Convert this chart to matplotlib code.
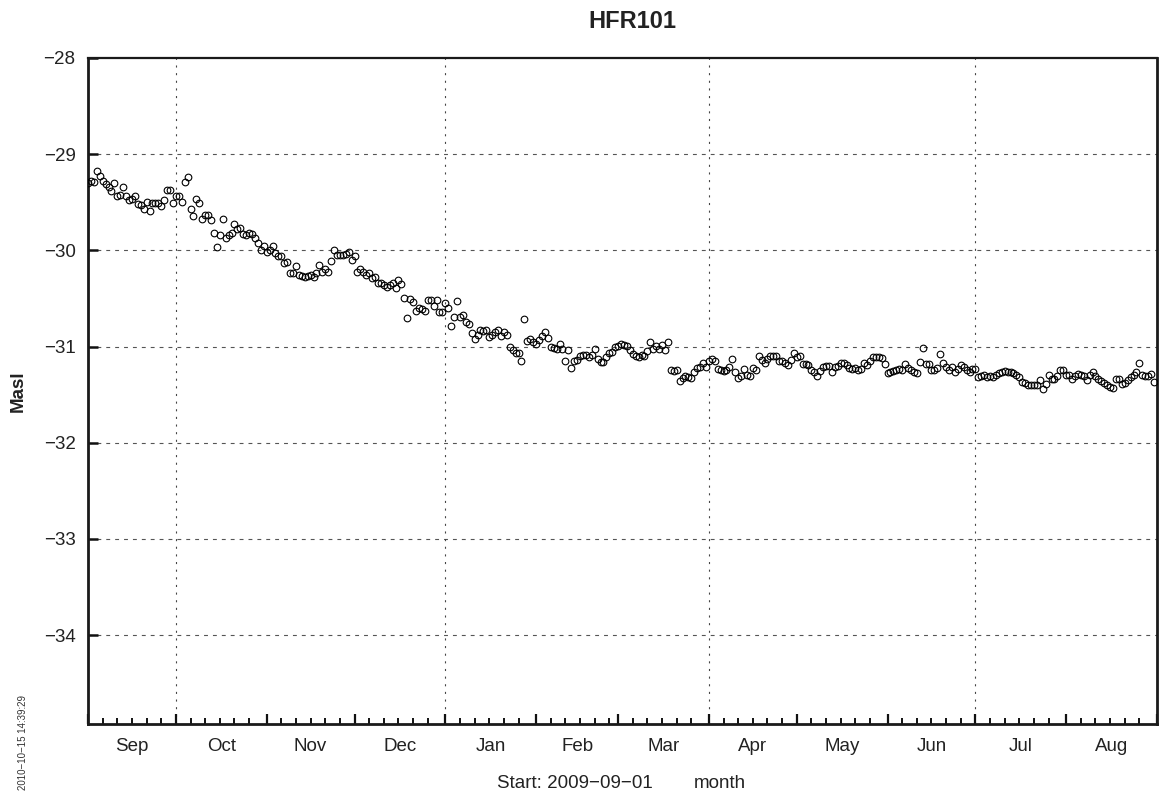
import numpy as np
import matplotlib
matplotlib.use("Agg")
import matplotlib.pyplot as plt
import matplotlib.dates as mdates

plt.rcParams['font.family'] = ['Liberation Sans', 'DejaVu Sans']
plt.rcParams['lines.scale_dashes'] = False

station = "HFR101"
start = "2009-09-01"
stamp = "2010\u221210\u221215 14:39:29"

# daily levels (masl), one list per month
sep = [-29.30, -29.28, -29.29, -29.18, -29.23, -29.28, -29.31, -29.34, -29.38, -29.30,
       -29.43, -29.42, -29.34, -29.43, -29.48, -29.47, -29.43, -29.52, -29.53, -29.57,
       -29.50, -29.59, -29.51, -29.51, -29.51, -29.54, -29.48, -29.37, -29.37, -29.51]
oct_ = [-29.43, -29.43, -29.50, -29.29, -29.24, -29.57, -29.64, -29.47, -29.51, -29.67,
        -29.63, -29.63, -29.68, -29.82, -29.97, -29.84, -29.67, -29.87, -29.84, -29.82,
        -29.73, -29.78, -29.77, -29.83, -29.84, -29.82, -29.83, -29.87, -29.92, -30.00,
        -29.95]
nov = [-30.02, -30.00, -29.95, -30.03, -30.06, -30.06, -30.13, -30.12, -30.24, -30.24,
       -30.16, -30.26, -30.27, -30.28, -30.27, -30.26, -30.28, -30.24, -30.15, -30.23,
       -30.19, -30.22, -30.11, -30.00, -30.05, -30.05, -30.05, -30.04, -30.02, -30.10]
dec = [-30.06, -30.22, -30.19, -30.22, -30.26, -30.24, -30.29, -30.28, -30.34, -30.34,
       -30.36, -30.38, -30.36, -30.34, -30.39, -30.31, -30.35, -30.50, -30.70, -30.51,
       -30.54, -30.63, -30.60, -30.61, -30.63, -30.52, -30.52, -30.58, -30.52, -30.64,
       -30.64]
jan = [-30.55, -30.60, -30.79, -30.69, -30.53, -30.69, -30.67, -30.75, -30.77, -30.86,
       -30.92, -30.88, -30.83, -30.84, -30.83, -30.90, -30.88, -30.85, -30.83, -30.89,
       -30.85, -30.88, -31.00, -31.04, -31.07, -31.07, -31.15, -30.71, -30.94, -30.92,
       -30.95]
feb = [-30.97, -30.93, -30.89, -30.85, -30.91, -31.01, -31.02, -31.03, -30.97, -31.03,
       -31.15, -31.04, -31.22, -31.15, -31.14, -31.10, -31.09, -31.09, -31.11, -31.09,
       -31.03, -31.13, -31.16, -31.16, -31.11, -31.07, -31.06, -31.00]
mar = [-30.99, -30.97, -30.98, -30.99, -31.04, -31.08, -31.10, -31.11, -31.09, -31.10,
       -31.05, -30.95, -31.03, -30.99, -31.03, -30.98, -31.04, -30.95, -31.24, -31.25,
       -31.24, -31.36, -31.33, -31.31, -31.32, -31.33, -31.26, -31.22, -31.21, -31.17,
       -31.21]
apr = [-31.15, -31.13, -31.15, -31.23, -31.24, -31.25, -31.24, -31.21, -31.13, -31.26,
       -31.33, -31.31, -31.23, -31.30, -31.31, -31.22, -31.24, -31.10, -31.14, -31.17,
       -31.13, -31.10, -31.10, -31.10, -31.15, -31.15, -31.17, -31.19, -31.14, -31.07]
may = [-31.11, -31.10, -31.18, -31.18, -31.19, -31.24, -31.27, -31.31, -31.25, -31.21,
       -31.20, -31.20, -31.26, -31.21, -31.20, -31.17, -31.17, -31.19, -31.22, -31.23,
       -31.22, -31.24, -31.23, -31.17, -31.19, -31.15, -31.11, -31.11, -31.11, -31.12,
       -31.18]
jun = [-31.28, -31.26, -31.25, -31.24, -31.23, -31.24, -31.18, -31.22, -31.24, -31.26,
       -31.28, -31.16, -31.02, -31.18, -31.18, -31.24, -31.24, -31.22, -31.08, -31.17,
       -31.21, -31.24, -31.21, -31.26, -31.23, -31.19, -31.21, -31.24, -31.26, -31.23]
jul = [-31.23, -31.32, -31.31, -31.30, -31.32, -31.31, -31.32, -31.30, -31.28, -31.26,
       -31.25, -31.26, -31.27, -31.28, -31.30, -31.32, -31.37, -31.38, -31.40, -31.40,
       -31.40, -31.40, -31.35, -31.44, -31.39, -31.30, -31.34, -31.34, -31.31, -31.24,
       -31.24]
aug = [-31.30, -31.30, -31.34, -31.31, -31.29, -31.30, -31.31, -31.35, -31.30, -31.26,
       -31.31, -31.34, -31.36, -31.38, -31.40, -31.42, -31.43, -31.34, -31.34, -31.39,
       -31.38, -31.35, -31.32, -31.30, -31.26, -31.17, -31.30, -31.31, -31.31, -31.29,
       -31.37]

month_names = ["Sep", "Oct", "Nov", "Dec", "Jan", "Feb", "Mar", "Apr", "May", "Jun", "Jul", "Aug"]
yticks = [-34, -33, -32, -31, -30, -29, -28]

level = np.array(sep + oct_ + nov + dec + jan + feb + mar + apr + may + jun + jul + aug)
days = np.datetime64(start) + np.arange(len(level))
x = mdates.date2num(days.astype("datetime64[D]").astype(object))

month_starts = np.arange(np.datetime64("2009-09"), np.datetime64("2010-10"),
                         dtype="datetime64[M]").astype("datetime64[D]")
ms = mdates.date2num(month_starts.astype(object))

fig = plt.figure(figsize=(11.6, 7.99), dpi=100)
ax = fig.add_axes([88 / 1160, 1 - 724 / 799, (1157 - 88) / 1160, (724 - 58) / 799])

ax.plot(x, level, 'o', ms=4.8, mfc='none', mec='black', mew=0.8, zorder=3)

ax.set_xlim(ms[0], ms[-1])
ax.set_ylim(-34.925, -28)

# grid: dashed horizontals, dotted verticals every quarter
for yv in yticks[:-1]:
    ax.axhline(yv, color='#555555', lw=0.8, ls=(0, (2.8, 3.6)), zorder=1)
for xv in ms[1:-1:3]:
    ax.axvline(xv, color='#444444', lw=0.8, ls=(0, (1.5, 4)), zorder=1)

# ticks: months as major, every five days as minor
minor = []
for m in month_starts[:-1]:
    for d in (5, 10, 15, 20, 25):
        minor.append(mdates.date2num((m + d).astype(object)))
ax.set_xticks(ms)
ax.set_xticks(minor, minor=True)
ax.set_xticklabels([])
ax.tick_params(axis='x', which='major', direction='in', length=7.5, width=1.6, color='#111111')
ax.tick_params(axis='x', which='minor', direction='in', length=4, width=1.4, color='#111111')

ax.set_yticks(yticks)
ax.set_yticklabels([str(v).replace('-', '\u2212') for v in yticks], fontsize=13.5)
ax.tick_params(axis='y', direction='in', length=7.5, width=1.8, color='#111111', pad=9,
               labelcolor='#222222')

for i, name in enumerate(month_names):
    ax.text((ms[i] + ms[i + 1]) / 2, -0.021, name, transform=ax.get_xaxis_transform(),
            ha='center', va='top', fontsize=13.5, color='#222222')

for side in ['left', 'bottom', 'right', 'top']:
    ax.spines[side].set_linewidth(2.0)
    ax.spines[side].set_color('#1a1a1a')
ax.spines['top'].set_linewidth(1.6)

fig.text(632 / 1160, 1 - 22 / 799, station, ha='center', va='center',
         fontsize=17, fontweight='bold', color='#222222')
fig.text(18 / 1160, 1 - 391 / 799, "Masl", rotation=90, ha='center', va='center',
         fontsize=13.5, fontweight='bold', color='#222222')
fig.text(575 / 1160, 1 - 783 / 799, "Start: " + start.replace('-', '\u2212'),
         ha='center', va='center', fontsize=13.5, color='#222222')
fig.text(720 / 1160, 1 - 783 / 799, "month", ha='center', va='center',
         fontsize=13.5, color='#222222')
fig.text(23 / 1160, 1 - 742 / 799, stamp, rotation=90, ha='center', va='center',
         fontsize=7, color='#333333')

fig.savefig("out.png", dpi=100)
